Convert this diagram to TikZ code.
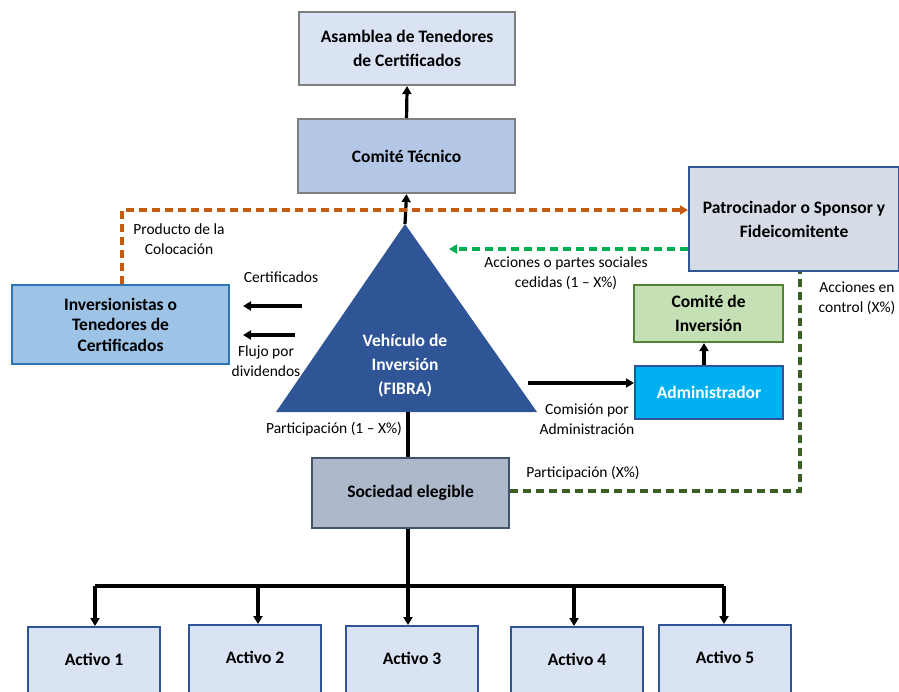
\documentclass[tikz,border=0pt]{standalone}
\usepackage{fontspec}
\setmainfont{Carlito}
\usetikzlibrary{arrows.meta}
\definecolor{boxpale}{HTML}{DAE3F3}
\definecolor{boxmid}{HTML}{B4C7E7}
\definecolor{boxinv}{HTML}{9DC3E6}
\definecolor{boxspon}{HTML}{D6DCE5}
\definecolor{boxgreen}{HTML}{C5E0B4}
\definecolor{boxadmin}{HTML}{00B0F0}
\definecolor{boxsoc}{HTML}{ADB9CA}
\definecolor{navy}{HTML}{2F5597}
\definecolor{steel}{HTML}{2E75B6}
\definecolor{greyline}{HTML}{7F7F7F}
\definecolor{slate}{HTML}{44546A}
\definecolor{leaf}{HTML}{548235}
\definecolor{darkleaf}{HTML}{3B5E22}
\definecolor{rust}{HTML}{C55A11}
\definecolor{brightgreen}{HTML}{00B050}
\begin{document}
\begin{tikzpicture}[x=1pt,y=-1pt,
  box/.style={draw, line width=2.1pt, rectangle, anchor=north west, inner sep=0pt,
    align=center, font=\fontsize{17.5}{24}\selectfont\bfseries},
  lbl/.style={align=center, font=\fontsize{15.5}{20}\selectfont, inner sep=0pt},
  tip/.style={-{Triangle[length=8pt,width=9pt]}},
  solidarrow/.style={tip, line width=3.2pt},
  dashline/.style={line width=3.6pt, dash pattern=on 8pt off 5pt},
  asset/.style={box, fill=boxpale, draw=navy, minimum width=132pt, minimum height=80pt,
    text depth=16pt}]
\useasboundingbox (0,0) rectangle (899,691);
\begin{scope}
\clip (0,0) rectangle (899,691);

% upper governance boxes
\node[box, fill=boxpale, draw=greyline, minimum width=216pt, minimum height=73pt]
  (asamblea) at (298,11) {Asamblea de Tenedores\\de Certificados};
\node[box, fill=boxmid, draw=greyline, minimum width=217pt, minimum height=74pt]
  (tecnico) at (297,118) {Comité Técnico};

% investment vehicle (triangle)
\coordinate (apex) at (405,224);
\coordinate (baseL) at (276,412);
\coordinate (baseR) at (537,412);
\fill[navy] (apex) -- (baseR) -- (baseL) -- cycle;
\node[text=white, align=center, font=\fontsize{17.5}{24}\selectfont\bfseries] (fibra) at (405,366)
  {Vehículo de\\Inversión\\(FIBRA)};
\coordinate (baseMid) at (408,412);
\coordinate (rightEdge) at (528,383);

% side boxes
\node[box, fill=boxspon, draw=navy, minimum width=210pt, minimum height=104pt]
  (sponsor) at (688,166) {Patrocinador o Sponsor y\\Fideicomitente};
\node[box, fill=boxinv, draw=steel, minimum width=217pt, minimum height=79pt,
  font=\fontsize{17.5}{20.5}\selectfont\bfseries]
  (inversion) at (11,284) {Inversionistas o\\Tenedores de\\Certificados};
\node[box, fill=boxgreen, draw=leaf, minimum width=149pt, minimum height=57pt]
  (comiteinv) at (633,284) {Comité de\\Inversión};
\node[box, fill=boxadmin, draw=navy, minimum width=148pt, minimum height=53pt, text=white]
  (admin) at (634,365) {Administrador};
\node[box, fill=boxsoc, draw=slate, minimum width=197pt, minimum height=70pt]
  (sociedad) at (311,457) {Sociedad elegible};

% assets (their lower part runs past the page edge)
\node[asset] (a1) at (27,626) {Activo 1};
\node[asset] (a2) at (188,624) {Activo 2};
\node[asset] (a3) at (345,625) {Activo 3};
\node[asset] (a4) at (510,626) {Activo 4};
\node[asset] (a5) at (658,624) {Activo 5};
\end{scope}

% governance arrows
\draw[solidarrow] (tecnico.north) -- (asamblea.south);
\draw[solidarrow] (apex) -- (tecnico.south);

% placement proceeds (orange)
\coordinate (orangeCorner) at (122,210);
\draw[dashline, rust, tip] (inversion.north -| orangeCorner) -- (orangeCorner) -- (sponsor.west |- orangeCorner);
\node[lbl] (producto) at (179,239) {Producto de la\\Colocación};

% shares ceded (green)
\coordinate (greenEnd) at (449,249);
\draw[dashline, brightgreen, tip] (sponsor.west |- greenEnd) -- (greenEnd);
\node[lbl] (cedidas) at (566,273) {Acciones o partes sociales\\cedidas (1 – X\%)};

% certificates and dividends
\coordinate (certStart) at (302,306);
\coordinate (certEnd) at (243,306);
\coordinate (divStart) at (295,335);
\coordinate (divEnd) at (243,335);
\draw[solidarrow] (certStart) -- (certEnd);
\draw[solidarrow] (divStart) -- (divEnd);
\node[lbl] (certlbl) at (281,277) {Certificados};
\node[lbl] (divlbl) at (266,361) {Flujo por\\dividendos};

% management fee
\draw[solidarrow] (rightEdge) -- (admin.west |- rightEdge);
\node[lbl] (comision) at (587,419) {Comisión por\\Administración};
\draw[solidarrow] (admin.north -| 704,0) -- (comiteinv.south -| 704,0);

% participation lines
\draw[line width=3.2pt] (baseMid) -- (sociedad.north -| baseMid);
\node[lbl] (part1) at (334,429) {Participación (1 – X\%)};
\coordinate (ctrlCorner) at (800,491);
\draw[dashline, darkleaf] (sociedad.east |- ctrlCorner) -- (ctrlCorner) -- (sponsor.south -| ctrlCorner);
\node[lbl] (partx) at (583,473) {Participación (X\%)};
\node[lbl] (control) at (857,298) {Acciones en\\control (X\%)};

% distribution tree to assets
\coordinate (bus) at (408,586);
\draw[line width=3.2pt] (sociedad.south -| bus) -- (bus);
\draw[line width=3.2pt] (95,586) -- (724,586);
\foreach \n/\x in {a1/95,a2/258,a3/408,a4/574,a5/724}{
  \draw[solidarrow] (\x,586) -- (\n.north -| \x,0);
}
\end{tikzpicture}
\end{document}
